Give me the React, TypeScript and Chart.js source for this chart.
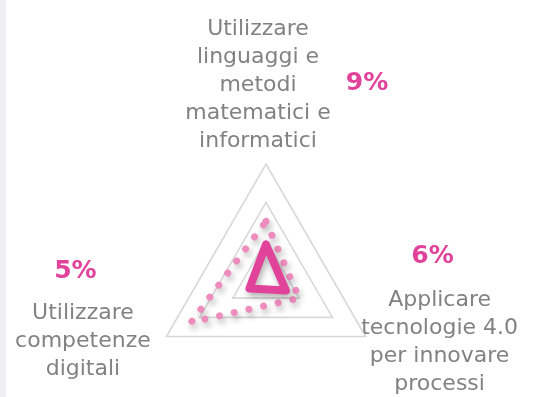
import React, { useEffect, useRef } from "react";
import { Chart, registerables } from "chart.js";

Chart.register(...registerables);

// ---- data ----
const categories: string[][] = [
  ["Utilizzare", "linguaggi e", "metodi", "matematici e", "informatici"],
  ["Applicare", "tecnologie 4.0", "per innovare", "processi"],
  ["Utilizzare", "competenze", "digitali"],
];
const mainValues = [9, 6, 5];
const referenceValues = [15, 10, 22.5];
const percentLabels = ["9%", "6%", "5%"];
const scaleMax = 30;
const scaleStep = 10;

// ---- label placement relative to each axis' outer vertex ----
const labelLayout = [
  { dx: -8, baseline: -129.5, pctDx: 101, pctBaseline: -74 },
  { dx: 74, baseline: -31, pctDx: 67, pctBaseline: -74 },
  { dx: -83.5, baseline: -18, pctDx: -91, pctBaseline: -59 },
];
const LINE_H = 28.2;

const shadowPlugin = {
  id: "lineShadow",
  beforeDatasetsDraw(chart: any) {
    const ctx = chart.ctx;
    ctx.save();
    ctx.shadowColor = "rgba(0,0,0,0.30)";
    ctx.shadowBlur = 6;
    ctx.shadowOffsetX = 2;
    ctx.shadowOffsetY = 4;
  },
  afterDatasetsDraw(chart: any) {
    chart.ctx.restore();
  },
};

const labelPlugin = {
  id: "customLabels",
  afterDraw(chart: any) {
    const ctx = chart.ctx;
    const scale = chart.scales.r;
    ctx.save();
    ctx.textAlign = "center";
    ctx.textBaseline = "alphabetic";
    categories.forEach((lines, i) => {
      const p = scale.getPointPosition(i, scale.drawingArea);
      const lay = labelLayout[i];
      ctx.font = "22px 'DejaVu Sans'";
      ctx.fillStyle = "#828282";
      lines.forEach((ln, k) => {
        ctx.fillText(ln, p.x + lay.dx, p.y + lay.baseline + k * LINE_H);
      });
      ctx.font = "bold 25px 'DejaVu Sans'";
      ctx.fillStyle = "#e2439a";
      ctx.fillText(percentLabels[i], p.x + lay.pctDx, p.y + lay.pctBaseline);
    });
    ctx.restore();
  },
};

export default function App() {
  const ref = useRef<HTMLCanvasElement | null>(null);
  useEffect(() => {
    if (!ref.current) return;
    const chart = new Chart(ref.current, {
      type: "radar",
      data: {
        labels: categories,
        datasets: [
          {
            label: "Valore",
            data: mainValues,
            borderColor: "#e2439a",
            backgroundColor: "rgba(0,0,0,0)",
            borderWidth: 8,
            borderJoinStyle: "round",
            pointRadius: 0,
            fill: false,
          },
          {
            label: "Riferimento",
            data: referenceValues,
            borderColor: "#ee8cbd",
            backgroundColor: "rgba(0,0,0,0)",
            borderWidth: 7,
            borderDash: [0.01, 15],
            borderCapStyle: "round",
            borderJoinStyle: "round",
            pointRadius: 0,
            fill: false,
          },
        ],
      },
      options: {
        animation: false,
        responsive: true,
        maintainAspectRatio: false,
        layout: { padding: { top: 164, bottom: 2, left: 16, right: 22 } },
        plugins: { legend: { display: false }, tooltip: { enabled: false } },
        scales: {
          r: {
            min: 0,
            max: scaleMax,
            ticks: { stepSize: scaleStep, display: false },
            grid: { color: "#d8d8d8", lineWidth: 1.6, circular: false },
            angleLines: { display: false },
            pointLabels: { display: false },
          },
        },
      },
      plugins: [shadowPlugin, labelPlugin],
    } as any);
    return () => chart.destroy();
  }, []);

  return (
    <div style={{ position: "absolute", left: 0, top: 0, width: 538, height: 397, background: "#ffffff" }}>
      <div style={{ position: "absolute", left: 0, top: 0, width: 6, height: 397, background: "#eef0f3" }} />
      <div style={{ position: "absolute", left: 0, top: 0, width: 538, height: 397 }}>
        <canvas ref={ref} />
      </div>
    </div>
  );
}
